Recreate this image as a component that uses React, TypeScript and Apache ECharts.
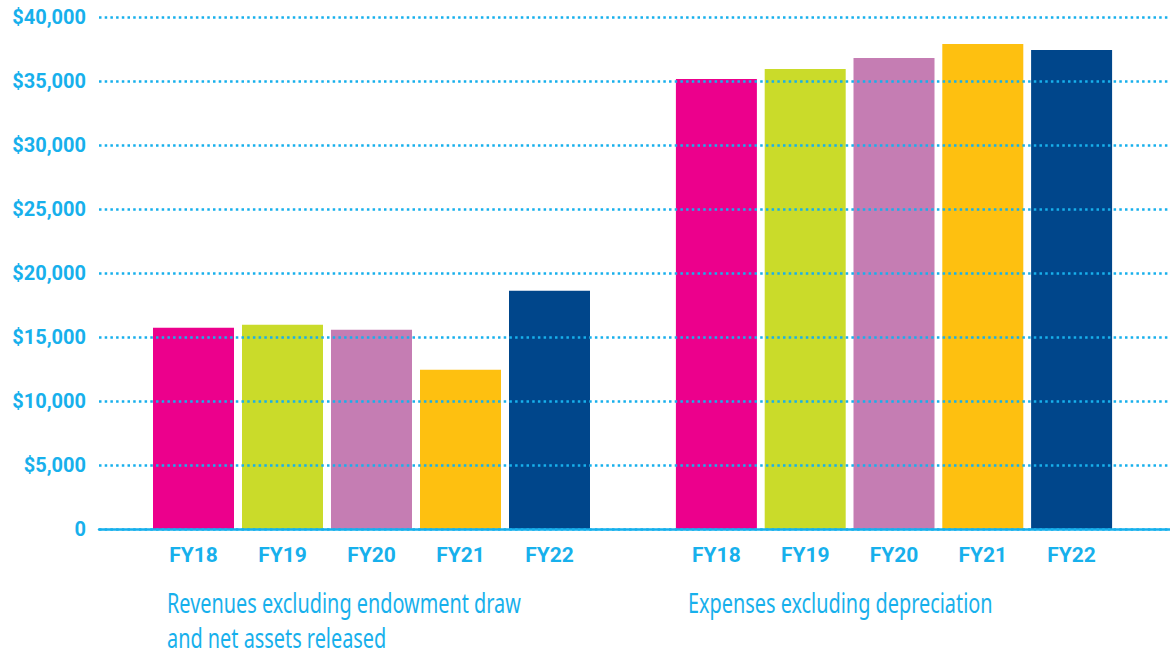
import React, { useEffect, useRef } from "react";
import * as echarts from "echarts";

const years = ["FY18", "FY19", "FY20", "FY21", "FY22"];
const revenues = [15730, 15960, 15570, 12450, 18620];
const expenses = [35150, 35930, 36790, 37890, 37420];
const barColors = ["#ec008c", "#cadb2a", "#c57db3", "#fec010", "#00468b"];
const groupTitles = [
  "Revenues excluding endowment draw\nand net assets released",
  "Expenses excluding depreciation",
];
const yMax = 40000;
const yStep = 5000;

const BLUE = "#17b0ec";

export default function App() {
  const ref = useRef<HTMLDivElement>(null);
  useEffect(() => {
    if (!ref.current) return;
    const chart = echarts.init(ref.current, undefined, { renderer: "svg" });
    const gridBase = { top: 17, bottom: 128 };
    const fyLabel = {
      color: BLUE,
      fontFamily: "Roboto, 'DejaVu Sans', sans-serif",
      fontWeight: "bold" as const,
      fontSize: 21,
      margin: 15,
    };
    const mkData = (vals: number[]) =>
      vals.map((v, i) => ({ value: v, itemStyle: { color: barColors[i] } }));
    const titleFont = "28px 'Noto Sans', sans-serif";
    chart.setOption({
      animation: false,
      grid: [
        { ...gridBase, left: 99, right: 0 },
        { ...gridBase, left: 149, width: 445 },
        { ...gridBase, left: 672, width: 444 },
      ],
      xAxis: [
        {
          gridIndex: 0,
          type: "category",
          data: [""],
          z: 10,
          axisLine: { show: true, lineStyle: { color: BLUE, width: 2.5 } },
          axisTick: { show: false },
          axisLabel: { show: false },
        },
        {
          gridIndex: 1,
          type: "category",
          data: years,
          axisLine: { show: false },
          axisTick: { show: false },
          axisLabel: fyLabel,
        },
        {
          gridIndex: 2,
          type: "category",
          data: years,
          axisLine: { show: false },
          axisTick: { show: false },
          axisLabel: fyLabel,
        },
      ],
      yAxis: [
        {
          gridIndex: 0,
          type: "value",
          min: 0,
          max: yMax,
          interval: yStep,
          z: 10,
          axisLine: { show: false },
          axisTick: { show: false },
          axisLabel: {
            color: BLUE,
            fontFamily: "Roboto, 'DejaVu Sans', sans-serif",
            fontWeight: "bold",
            fontSize: 20,
            margin: 13,
            formatter: (v: number) =>
              v === 0 ? "0" : "$" + v.toLocaleString("en-US"),
          },
          splitLine: {
            show: true,
            lineStyle: { color: BLUE, width: 2.5, type: [2.5, 3.2] },
          },
        },
        { gridIndex: 1, type: "value", min: 0, max: yMax, show: false, splitLine: { show: false } },
        { gridIndex: 2, type: "value", min: 0, max: yMax, show: false, splitLine: { show: false } },
      ],
      series: [
        {
          type: "bar",
          xAxisIndex: 1,
          yAxisIndex: 1,
          barWidth: 81,
          z: 2,
          data: mkData(revenues),
        },
        {
          type: "bar",
          xAxisIndex: 2,
          yAxisIndex: 2,
          barWidth: 81,
          z: 2,
          data: mkData(expenses),
        },
      ],
      graphic: [
        {
          type: "text",
          x: 167,
          y: 585,
          scaleX: 0.71,
          style: {
            text: groupTitles[0],
            fill: BLUE,
            font: titleFont,
            lineHeight: 35,
          },
        },
        {
          type: "text",
          x: 688,
          y: 585,
          scaleX: 0.71,
          style: {
            text: groupTitles[1],
            fill: BLUE,
            font: titleFont,
            lineHeight: 35,
          },
        },
      ],
    });
    return () => chart.dispose();
  }, []);
  return (
    <div
      ref={ref}
      style={{ position: "fixed", left: 0, top: 0, width: 1170, height: 657, background: "#fff" }}
    />
  );
}
